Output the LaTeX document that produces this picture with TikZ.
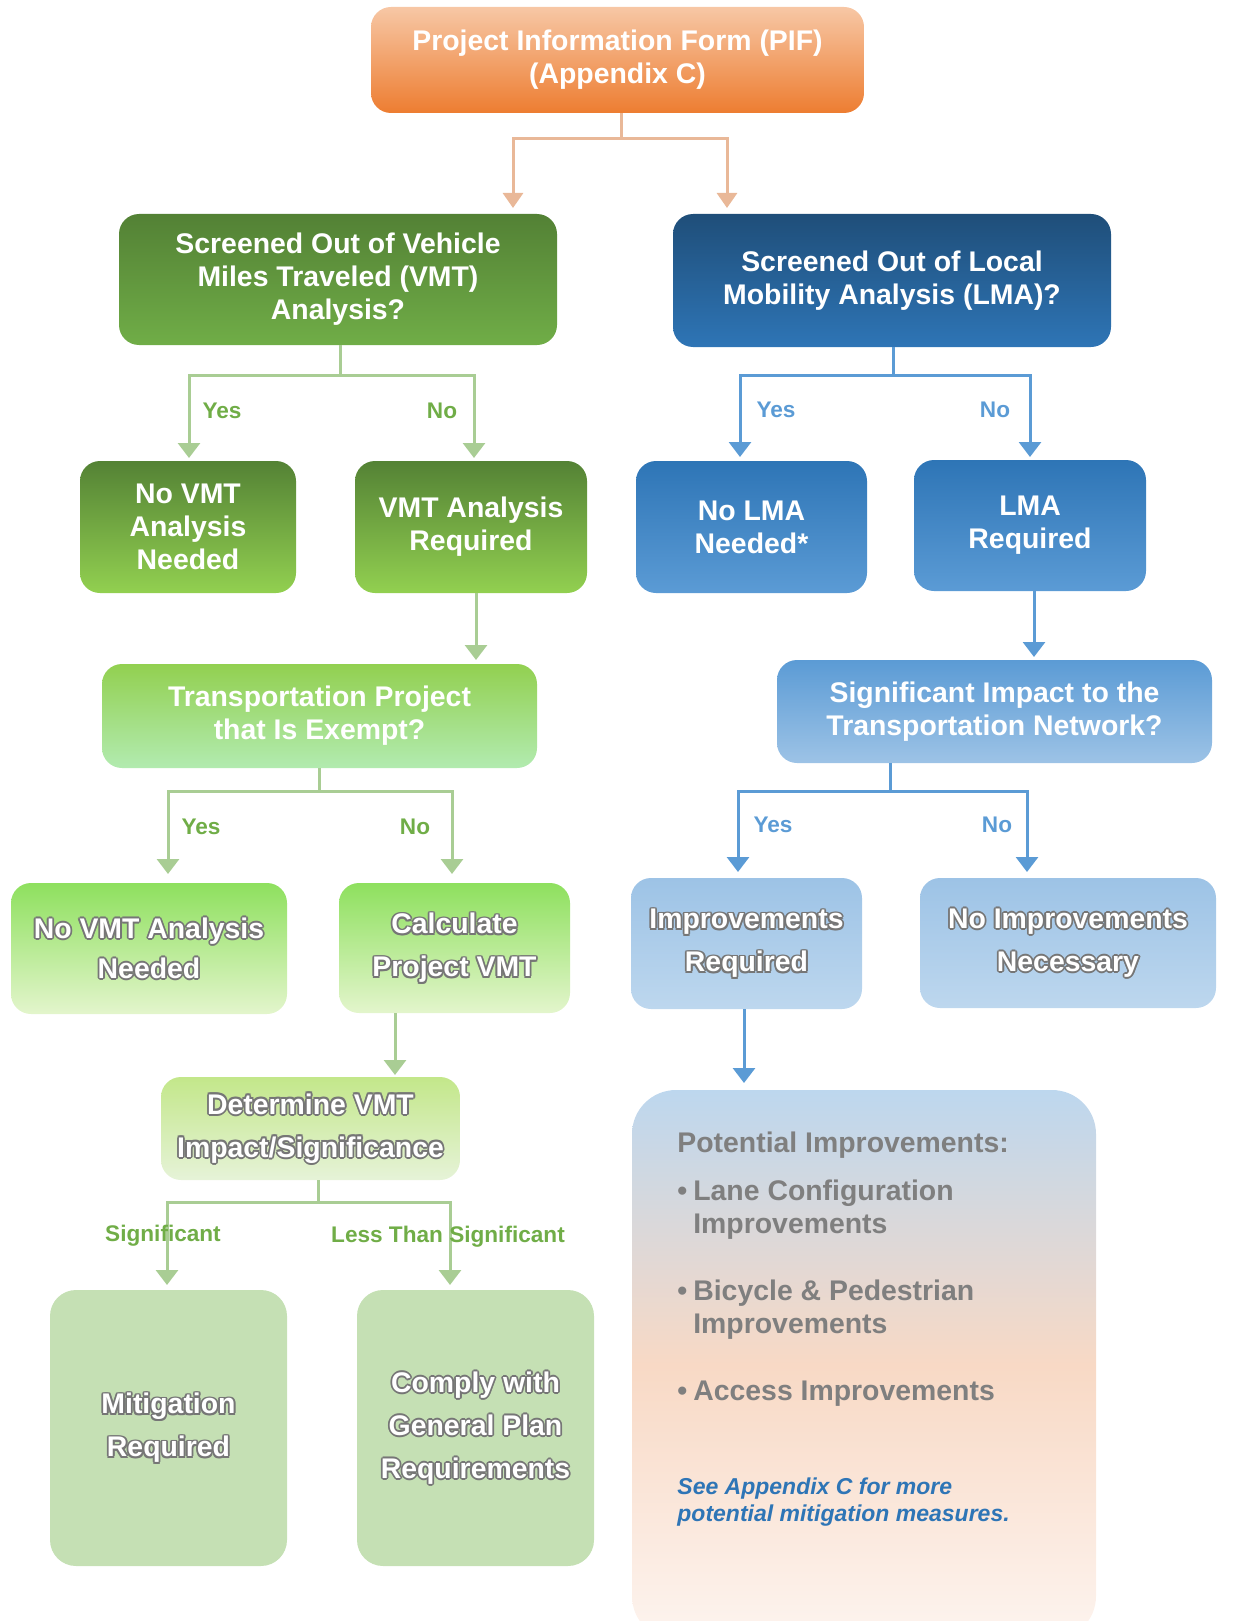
\documentclass[tikz,border=0pt]{standalone}
\usepackage{fontspec}
\setmainfont{Liberation Sans}
\usetikzlibrary{arrows.meta,shapes,positioning}

\definecolor{piftop}{HTML}{F7C7A5}
\definecolor{pifbot}{HTML}{ED7D31}
\definecolor{dkgtop}{HTML}{538135}
\definecolor{dkgbot}{HTML}{70AD47}
\definecolor{dkbtop}{HTML}{1F4E79}
\definecolor{dkbbot}{HTML}{2E75B6}
\definecolor{mgtop}{HTML}{548235}
\definecolor{mgbot}{HTML}{92D050}
\definecolor{mbtop}{HTML}{2E75B6}
\definecolor{mbbot}{HTML}{5B9BD5}
\definecolor{lgtop}{HTML}{92D050}
\definecolor{lgbot}{HTML}{B2EBB0}
\definecolor{lbtop}{HTML}{5B9BD5}
\definecolor{lbbot}{HTML}{9DC3E6}
\definecolor{pgtop}{HTML}{8EE05E}
\definecolor{pgbot}{HTML}{E3F5CC}
\definecolor{dettop}{HTML}{C3E78A}
\definecolor{detbot}{HTML}{E6F3D8}
\definecolor{ibtop}{HTML}{9DC3E6}
\definecolor{ibbot}{HTML}{BDD7EE}
\definecolor{mitfill}{HTML}{C5E0B4}
\definecolor{pottop}{HTML}{BDD7EE}
\definecolor{potmid}{HTML}{F8D9C5}
\definecolor{potbot}{HTML}{FDF4EF}
\definecolor{pifarrow}{HTML}{E9B898}
\definecolor{greenarrow}{HTML}{A9CD94}
\definecolor{bluearrow}{HTML}{5B9BD5}
\definecolor{greenlabel}{HTML}{70AD47}
\definecolor{graytext}{HTML}{7F7F7F}
\definecolor{notetext}{HTML}{2E75B6}
\definecolor{glowc}{HTML}{767676}

\newcommand\glowcopy[3]{\rlap{\color{glowc}\kern#1\raisebox{#2}{#3}}}
\newcommand\glow[1]{\leavevmode\glowcopy{-.9pt}{0pt}{#1}\glowcopy{.9pt}{0pt}{#1}\glowcopy{0pt}{.9pt}{#1}\glowcopy{0pt}{-.9pt}{#1}\glowcopy{-.65pt}{-.65pt}{#1}\glowcopy{.65pt}{.65pt}{#1}\glowcopy{-.65pt}{.65pt}{#1}\glowcopy{.65pt}{-.65pt}{#1}#1}

\tikzset{
  box/.style={rounded corners=10pt, text=white, align=center, inner sep=0pt,
    font=\bfseries\fontsize{14.2}{16.5}\selectfont},
  glowbox/.style={box, font=\bfseries\fontsize{14.2}{21.5}\selectfont},
  oarrow/.style={draw=pifarrow, line width=1.5pt, -{Triangle[width=10pt,length=7.5pt]}},
  garrow/.style={draw=greenarrow, line width=1.5pt, -{Triangle[width=11pt,length=7.5pt]}},
  barrow/.style={draw=bluearrow, line width=1.5pt, -{Triangle[width=11pt,length=7.5pt]}},
  glabel/.style={text=greenlabel, font=\bfseries\fontsize{11.3}{13}\selectfont},
  blabel/.style={text=bluearrow, font=\bfseries\fontsize{11.3}{13}\selectfont},
  pottext/.style={text=graytext, align=left, inner sep=0pt, font=\bfseries\fontsize{14.2}{16.5}\selectfont}
}

\begin{document}
\begin{tikzpicture}[x=0.5pt,y=-0.5pt]

\node[box, minimum width=246.5pt, minimum height=53pt, top color=piftop, bottom color=pifbot] (pif) at (617.5,60) {Project Information Form (PIF)\\(Appendix C)};

\node[box, minimum width=219pt, minimum height=65.5pt, top color=dkgtop, bottom color=dkgbot] (vmtq) at (338,279.5) {Screened Out of Vehicle\\Miles Traveled (VMT)\\Analysis?};
\node[box, minimum width=219pt, minimum height=66.5pt, top color=dkbtop, bottom color=dkbbot] (lmaq) at (892,280.5) {Screened Out of Local\\Mobility Analysis (LMA)?};

\node[box, minimum width=108pt, minimum height=66pt, top color=mgtop, bottom color=mgbot] (novmt) at (188,527) {No VMT\\Analysis\\Needed};
\node[box, minimum width=116pt, minimum height=66pt, top color=mgtop, bottom color=mgbot] (vmtreq) at (471,527) {VMT Analysis\\Required};
\node[box, minimum width=115.5pt, minimum height=66pt, top color=mbtop, bottom color=mbbot] (nolma) at (751.5,527) {No LMA\\Needed*};
\node[box, minimum width=116pt, minimum height=65.5pt, top color=mbtop, bottom color=mbbot] (lmareq) at (1030,525.5) {LMA\\Required};

\node[box, minimum width=217.5pt, minimum height=52pt, top color=lgtop, bottom color=lgbot] (exempt) at (319.5,716) {Transportation Project\\that Is Exempt?};
\node[box, minimum width=217.5pt, minimum height=51.5pt, top color=lbtop, bottom color=lbbot] (sigimp) at (994.5,711.5) {Significant Impact to the\\Transportation Network?};

\node[glowbox, minimum width=138pt, minimum height=65.5pt, top color=pgtop, bottom color=pgbot, font=\bfseries\fontsize{14.2}{20}\selectfont] (novmttwo) at (149,948.5) {\glow{No VMT Analysis}\\\glow{Needed}};
\node[glowbox, minimum width=115.5pt, minimum height=65pt, top color=pgtop, bottom color=pgbot] (calcvmt) at (454.5,948) {\glow{Calculate}\\\glow{Project VMT}};
\node[glowbox, minimum width=115.5pt, minimum height=65.5pt, top color=ibtop, bottom color=ibbot] (impreq) at (746.5,943.5) {\glow{Improvements}\\\glow{Required}};
\node[glowbox, minimum width=148pt, minimum height=65pt, top color=ibtop, bottom color=ibbot] (noimp) at (1068,943) {\glow{No Improvements}\\\glow{Necessary}};

\node[glowbox, minimum width=149.5pt, minimum height=51.5pt, top color=dettop, bottom color=detbot] (detvmt) at (310.5,1128.5) {\glow{Determine VMT}\\\glow{Impact/Significance}};

\node[glowbox, rounded corners=13pt, minimum width=118.5pt, minimum height=138pt, fill=mitfill] (mitig) at (168.5,1428) {\glow{Mitigation}\\\glow{Required}};
\node[glowbox, rounded corners=13pt, minimum width=118.5pt, minimum height=138pt, fill=mitfill] (comply) at (475.5,1428) {\glow{Comply with}\\\glow{General Plan}\\\glow{Requirements}};

\node[box, rounded corners=22pt, minimum width=232pt, minimum height=275pt, top color=pottop, bottom color=potbot, middle color=potmid] (potimp) at (864,1365) {};
\node[pottext, anchor=west] (pothead) at (677,1145) {Potential Improvements:};
\node[pottext, anchor=west] (potlane) at (677,1210.5) {\begin{tabular}{@{}l@{\hspace{3pt}}l@{}}\textbullet & Lane Configuration\\ & Improvements\end{tabular}};
\node[pottext, anchor=west] (potbike) at (677,1310.5) {\begin{tabular}{@{}l@{\hspace{3pt}}l@{}}\textbullet & Bicycle \& Pedestrian\\ & Improvements\end{tabular}};
\node[pottext, anchor=west] (potaccess) at (677,1394) {\begin{tabular}{@{}l@{\hspace{3pt}}l@{}}\textbullet & Access Improvements\end{tabular}};
\node[pottext, anchor=west, text=notetext, font=\bfseries\itshape\fontsize{11.5}{13.5}\selectfont] (potnote) at (677,1502.5) {See Appendix C for more\\potential mitigation measures.};

\coordinate (pifl) at (513,208);
\coordinate (pifr) at (727,208);
\draw[oarrow] ([xshift=1.75pt]pif.south) -- ++(0,25) -| (pifl);
\draw[oarrow] ([xshift=1.75pt]pif.south) -- ++(0,25) -| (pifr);

\coordinate (vmtyes) at (189,458);
\coordinate (vmtno) at (474,458);
\draw[garrow] ([xshift=1pt]vmtq.south) -- ++(0,30) -| (vmtyes);
\draw[garrow] ([xshift=1pt]vmtq.south) -- ++(0,30) -| (vmtno);
\node[glabel] (vmtyeslbl) at (222,411) {Yes};
\node[glabel] (vmtnolbl) at (442,411) {No};

\coordinate (lmayes) at (740,457);
\coordinate (lmano) at (1030,457);
\draw[barrow] ([xshift=0.5pt]lmaq.south) -- ++(0,28) -| (lmayes);
\draw[barrow] ([xshift=0.5pt]lmaq.south) -- ++(0,28) -| (lmano);
\node[blabel] (lmayeslbl) at (776,410) {Yes};
\node[blabel] (lmanolbl) at (995,410) {No};

\coordinate (exempttip) at (476,660);
\draw[garrow] ([xshift=2.5pt]vmtreq.south) -- (exempttip);
\coordinate (sigtip) at (1034,657);
\draw[barrow] ([xshift=2pt]lmareq.south) -- (sigtip);

\coordinate (exyes) at (168,874);
\coordinate (exno) at (452,874);
\draw[garrow] ([xshift=-0.25pt]exempt.south) -- ++(0,23) -| (exyes);
\draw[garrow] ([xshift=-0.25pt]exempt.south) -- ++(0,23) -| (exno);
\node[glabel] (exyeslbl) at (201,827) {Yes};
\node[glabel] (exnolbl) at (415,827) {No};

\coordinate (sigyes) at (738,872);
\coordinate (signo) at (1027,872);
\draw[barrow] ([xshift=-52.25pt]sigimp.south) -- ++(0,28) -| (sigyes);
\draw[barrow] ([xshift=-52.25pt]sigimp.south) -- ++(0,28) -| (signo);
\node[blabel] (sigyeslbl) at (773,825) {Yes};
\node[blabel] (signolbl) at (997,825) {No};

\coordinate (dettip) at (395,1075);
\draw[garrow] ([xshift=-29.75pt]calcvmt.south) -- (dettip);
\coordinate (pottip) at (744,1083);
\draw[barrow] ([xshift=-1.25pt]impreq.south) -- (pottip);

\coordinate (detsig) at (167,1285);
\coordinate (detless) at (450,1285);
\draw[garrow] ([xshift=3.75pt]detvmt.south) -- ++(0,22) -| (detsig);
\draw[garrow] ([xshift=3.75pt]detvmt.south) -- ++(0,22) -| (detless);
\node[glabel] (detsiglbl) at (163,1236) {Significant};
\node[glabel] (detlesslbl) at (448,1237) {Less Than Significant};

\pgfresetboundingbox
\useasboundingbox (0,0) rectangle (1256,1621);
\end{tikzpicture}
\end{document}
